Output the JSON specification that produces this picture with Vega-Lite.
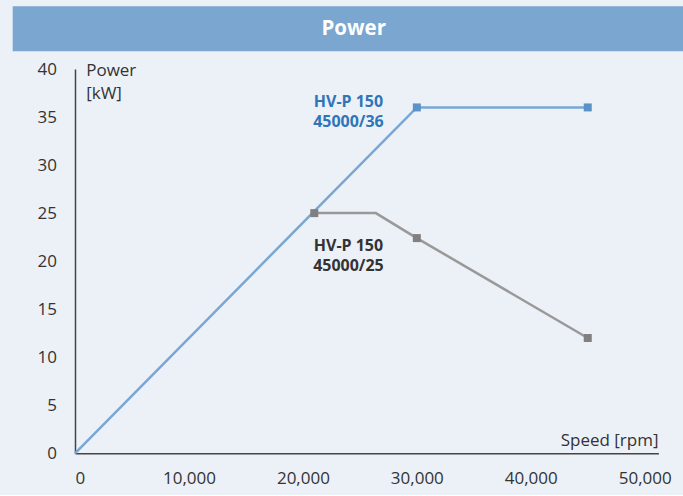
{
  "$schema": "https://vega.github.io/schema/vega-lite/v6.json",
  "background": "#ecf0f7",
  "padding": {"left": 12, "top": 6, "right": 0, "bottom": 9},
  "config": {
    "font": "Open Sans",
    "view": {"stroke": null}
  },
  "width": 583.4,
  "height": 384.3,
  "layer": [
    {
      "data": {"values": [{"title": "Power"}]},
      "layer": [
        {
          "mark": {"type": "rect", "color": "#7aa6cf", "clip": false},
          "encoding": {
            "x": {"datum": -5467, "type": "quantitative"},
            "x2": {"datum": 53419},
            "y": {"datum": 41.842, "type": "quantitative"},
            "y2": {"datum": 46.526}
          }
        },
        {
          "mark": {"type": "text", "fontSize": 20.5, "fontWeight": "bold", "color": "#ffffff", "baseline": "middle", "align": "center", "clip": false},
          "encoding": {
            "x": {"datum": 24458, "type": "quantitative"},
            "y": {"datum": 44.15, "type": "quantitative"},
            "text": {"field": "title"}
          }
        }
      ]
    },
    {
      "data": {"values": [
        {"speed": 0, "power": 0, "series": "45000/36", "marker": false},
        {"speed": 30000, "power": 36, "series": "45000/36", "marker": true},
        {"speed": 45000, "power": 36, "series": "45000/36", "marker": true},
        {"speed": 21000, "power": 25, "series": "45000/25", "marker": true},
        {"speed": 26400, "power": 25, "series": "45000/25", "marker": false},
        {"speed": 30000, "power": 22.4, "series": "45000/25", "marker": true},
        {"speed": 45000, "power": 12, "series": "45000/25", "marker": true}
      ]},
      "layer": [
        {
          "mark": {"type": "line", "strokeWidth": 2.5},
          "encoding": {
            "x": {
              "field": "speed", "type": "quantitative",
              "scale": {"domain": [0, 51200], "nice": false},
              "axis": {
                "values": [0, 10000, 20000, 30000, 40000, 50000],
                "format": ",.0f",
                "ticks": false,
                "domainColor": "#444444",
                "domainWidth": 1.5,
                "gridColor": "#ffffff",
                "gridWidth": 1.5,
                "labelFontSize": 17,
                "labelColor": "#333333",
                "labelPadding": 17,
                "title": "Speed [rpm]",
                "titleFontSize": 17,
                "titleFontWeight": "normal",
                "titleColor": "#333333",
                "titleAlign": "right",
                "titleAnchor": null,
                "titleBaseline": "alphabetic",
                "titleX": 583,
                "titleY": -8
              }
            },
            "y": {
              "field": "power", "type": "quantitative",
              "scale": {"domain": [0, 40], "nice": false},
              "axis": {
                "values": [0, 5, 10, 15, 20, 25, 30, 35, 40],
                "ticks": false,
                "domainColor": "#444444",
                "domainWidth": 1.5,
                "gridColor": "#ffffff",
                "gridWidth": 1.5,
                "labelFontSize": 17,
                "labelColor": "#333333",
                "labelPadding": 18.5,
                "title": ["Power", "[kW]"],
                "titleFontSize": 17,
                "titleFontWeight": "normal",
                "titleColor": "#333333",
                "titleAngle": 0,
                "titleAlign": "left",
                "titleAnchor": null,
                "titleBaseline": "alphabetic",
                "titleLineHeight": 23,
                "titleX": 10.7,
                "titleY": 6.3
              }
            },
            "color": {
              "field": "series", "type": "nominal",
              "scale": {"domain": ["45000/36", "45000/25"], "range": ["#7aa6d3", "#999999"]},
              "legend": null
            }
          }
        },
        {
          "transform": [{"filter": "datum.marker"}],
          "mark": {"type": "point", "shape": "square", "filled": true, "size": 64, "opacity": 1},
          "encoding": {
            "x": {"field": "speed", "type": "quantitative"},
            "y": {"field": "power", "type": "quantitative"},
            "fill": {
              "field": "series", "type": "nominal",
              "scale": {"domain": ["45000/36", "45000/25"], "range": ["#5b92c8", "#808080"]},
              "legend": null
            }
          }
        }
      ]
    },
    {
      "data": {"values": [
        {"speed": 24000, "power": 36, "label": ["HV-P 150", "45000/36"], "series": "45000/36"},
        {"speed": 24000, "power": 21.02, "label": ["HV-P 150", "45000/25"], "series": "45000/25"}
      ]},
      "mark": {"type": "text", "fontSize": 16, "fontWeight": "bold", "baseline": "alphabetic", "align": "center", "lineHeight": 19.5},
      "encoding": {
        "x": {"field": "speed", "type": "quantitative"},
        "y": {"field": "power", "type": "quantitative"},
        "text": {"field": "label"},
        "fill": {
          "field": "series", "type": "nominal",
          "scale": {"domain": ["45000/36", "45000/25"], "range": ["#2f75b7", "#333333"]},
          "legend": null
        }
      }
    }
  ],
  "resolve": {"scale": {"fill": "independent"}}
}
